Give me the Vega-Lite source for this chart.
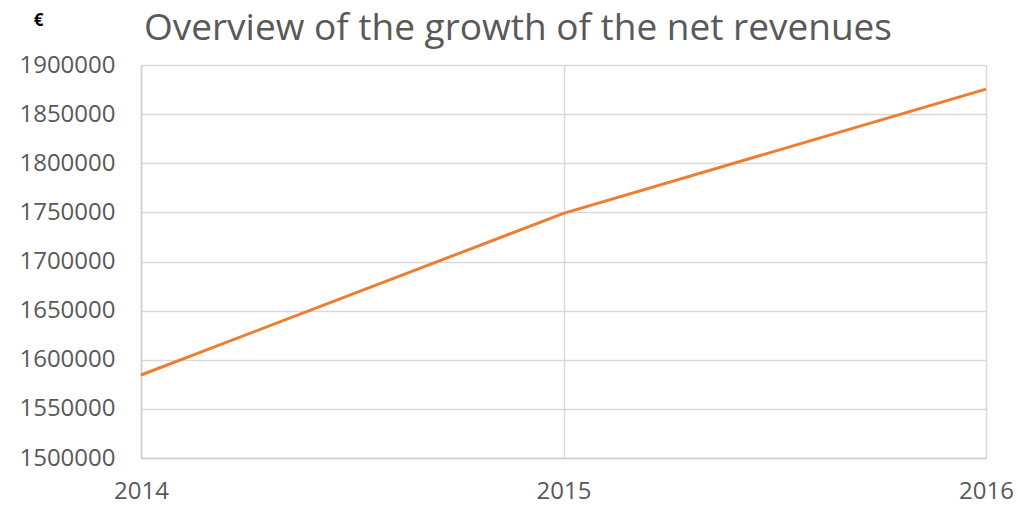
{
  "$schema": "https://vega.github.io/schema/vega-lite/v6.json",
  "width": 845,
  "height": 393,
  "autosize": "none",
  "padding": {"left": 141, "top": 65, "right": 32, "bottom": 49},
  "background": "white",
  "title": {
    "text": "Overview of the growth of the net revenues",
    "anchor": "start",
    "font": "Open Sans",
    "fontSize": 37,
    "fontWeight": "normal",
    "color": "#595959",
    "dx": 125,
    "dy": 47,
    "offset": 10
  },
  "config": {
    "view": {"stroke": null},
    "axis": {
      "labelFont": "Open Sans",
      "labelFontSize": 24,
      "labelColor": "#595959",
      "gridColor": "#d9d9d9",
      "gridWidth": 1.5,
      "domainColor": "#d0d0d0",
      "domainWidth": 1.5,
      "ticks": false,
      "labelOverlap": false
    }
  },
  "data": {
    "values": [
      {"year": "2014", "revenue": 1584500},
      {"year": "2015", "revenue": 1749000},
      {"year": "2016", "revenue": 1875500}
    ]
  },
  "mark": {"type": "line", "color": "#ED7D31", "strokeWidth": 3},
  "encoding": {
    "x": {
      "field": "year",
      "type": "ordinal",
      "scale": {"type": "point", "padding": 0},
      "axis": {"title": null, "labelPadding": 21, "labelAngle": 0, "grid": true}
    },
    "y": {
      "field": "revenue",
      "type": "quantitative",
      "scale": {"domain": [1500000, 1900000], "nice": false, "zero": false},
      "axis": {
        "values": [1500000, 1550000, 1600000, 1650000, 1700000, 1750000, 1800000, 1850000, 1900000],
        "format": "d",
        "labelPadding": 26,
        "title": "€",
        "titleAngle": 0,
        "titleAlign": "center",
        "titleBaseline": "middle",
        "titleX": -103,
        "titleY": -45,
        "titleFont": "Open Sans",
        "titleFontSize": 17,
        "titleFontWeight": "bold",
        "titleColor": "#000000"
      }
    }
  }
}
